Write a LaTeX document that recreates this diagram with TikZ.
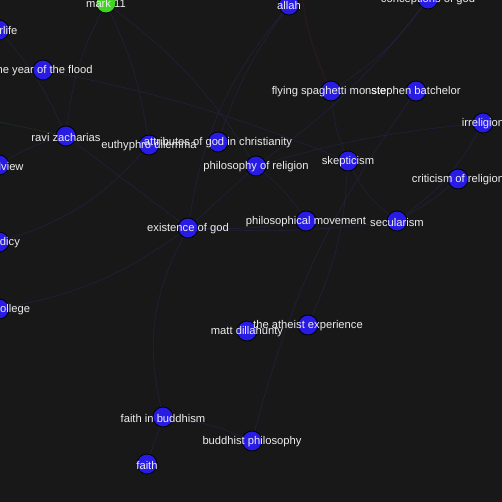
\documentclass[tikz,border=0pt]{standalone}
\usepackage{fontspec}
\setmainfont{Liberation Sans}
\usetikzlibrary{backgrounds}
\definecolor{graphbg}{RGB}{24,24,24}
\definecolor{topicblue}{RGB}{40,28,228}
\definecolor{topicgreen}{RGB}{62,214,32}
\definecolor{linkblue}{RGB}{40,40,90}
\definecolor{linkred}{RGB}{70,34,48}
\definecolor{linkgreen}{RGB}{34,70,34}
\tikzset{
  topic/.style={circle, draw=black, line width=0.8pt, fill=topicblue, minimum size=20pt, inner sep=0pt},
  seed/.style={topic, fill=topicgreen},
  tag/.style={text=white!93!black, font=\fontsize{11.2}{13}\selectfont, inner sep=0pt, yshift=-1pt},
  link/.style={draw=linkblue, line width=0.6pt, opacity=0.55}
}

\begin{document}
\begin{tikzpicture}[x=1pt,y=-1pt]
\useasboundingbox (0,0) rectangle (502,502);
\clip (0,0) rectangle (502,502);

% topics
\node[seed,  label={[tag]center:mark 11}] (mark) at (106,3) {};
\node[topic, label={[tag]center:afterlife}] (afterlife) at (-1,30) {};
\node[topic, label={[tag]center:the year of the flood}] (flood) at (43,70) {};
\node[topic, label={[tag]center:ravi zacharias}] (ravi) at (66,136) {};
\node[topic, label={[tag]center:worldview}] (worldview) at (-1,165) {};
\node[topic, label={[tag]center:euthyphro dilemma}] (euthyphro) at (149,145) {};
\node[topic, label={[tag]center:attributes of god in christianity}] (attributes) at (218,142) {};
\node[topic, label={[tag]center:philosophy of religion}] (philrel) at (256,166) {};
\node[topic, label={[tag]center:theodicy}] (theodicy) at (-1,242) {};
\node[topic, label={[tag]center:bible college}] (college) at (-1,309) {};
\node[topic, label={[tag]center:existence of god}] (existence) at (188,228) {};
\node[topic, label={[tag]center:allah}] (allah) at (289,5) {};
\node[topic, label={[tag]center:conceptions of god}] (conceptions) at (428,-1) {};
\node[topic, label={[tag]center:flying spaghetti monster}] (fsm) at (331,91) {};
\node[topic, label={[tag]center:stephen batchelor}] (batchelor) at (416,91) {};
\node[topic, label={[tag]center:irreligion}] (irreligion) at (483,123) {};
\node[topic, label={[tag]center:skepticism}] (skepticism) at (348,161) {};
\node[topic, label={[tag]center:criticism of religion}] (criticism) at (458,179) {};
\node[topic, label={[tag]center:philosophical movement}] (philmove) at (306,221) {};
\node[topic, label={[tag]center:secularism}] (secularism) at (397,221) {};
\node[topic, label={[tag]center:matt dillahunty}] (dillahunty) at (247,331) {};
\node[topic, label={[tag]center:the atheist experience}] (atheist) at (308,325) {};
\node[topic, label={[tag]center:faith in buddhism}] (faithbud) at (163,417) {};
\node[topic, label={[tag]center:buddhist philosophy}] (buddphil) at (252,441) {};
\node[topic, label={[tag]center:faith}] (faith) at (147,464) {};

% loose ends
\coordinate (offleft) at (-20,118);
\coordinate (offtop) at (300,-30);

\begin{scope}[on background layer]
\fill[graphbg] (0,0) rectangle (502,502);
\draw[link] (mark) to[bend right=10] (ravi);
\draw[link] (mark) to[bend left=8] (euthyphro);
\draw[link] (mark) to[bend left=10] (philrel);
\draw[link] (allah) to[bend right=8] (attributes);
\draw[link] (allah) to[bend right=15] (existence);
\draw[link] (conceptions) to[bend left=10] (fsm);
\draw[link] (conceptions) to[bend left=8] (philrel);
\draw[link] (fsm) to[bend right=8] (skepticism);
\draw[link] (batchelor) to[bend right=10] (buddphil);
\draw[link] (irreligion) to[bend right=5] (philrel);
\draw[link] (criticism) to[bend left=5] (secularism);
\draw[link] (secularism) to[bend left=12] (skepticism);
\draw[link] (secularism) to[bend left=5] (existence);
\draw[link] (secularism) to[bend right=12] (irreligion);
\draw[link] (philmove) to[bend left=5] (existence);
\draw[link] (philmove) to[bend right=8] (philrel);
\draw[link] (existence) -- (philrel);
\draw[link] (existence) -- (ravi);
\draw[link] (existence) to[bend right=20] (faithbud);
\draw[link] (atheist) to[bend right=10] (skepticism);
\draw[link] (dillahunty) -- (atheist);
\draw[link] (faithbud) to[bend left=8] (buddphil);
\draw[link] (faithbud) -- (faith);
\draw[link] (theodicy) to[bend right=15] (euthyphro);
\draw[link] (worldview) to[bend left=8] (ravi);
\draw[link] (flood) to[bend left=5] (skepticism);
\draw[link] (afterlife) to[bend left=8] (ravi);
\draw[link] (college) to[bend right=12] (existence);
\draw[link, draw=linkgreen] (ravi) -- (offleft);
\draw[link, draw=linkred] (fsm) to[bend left=10] (offtop);
\end{scope}
\end{tikzpicture}
\end{document}
